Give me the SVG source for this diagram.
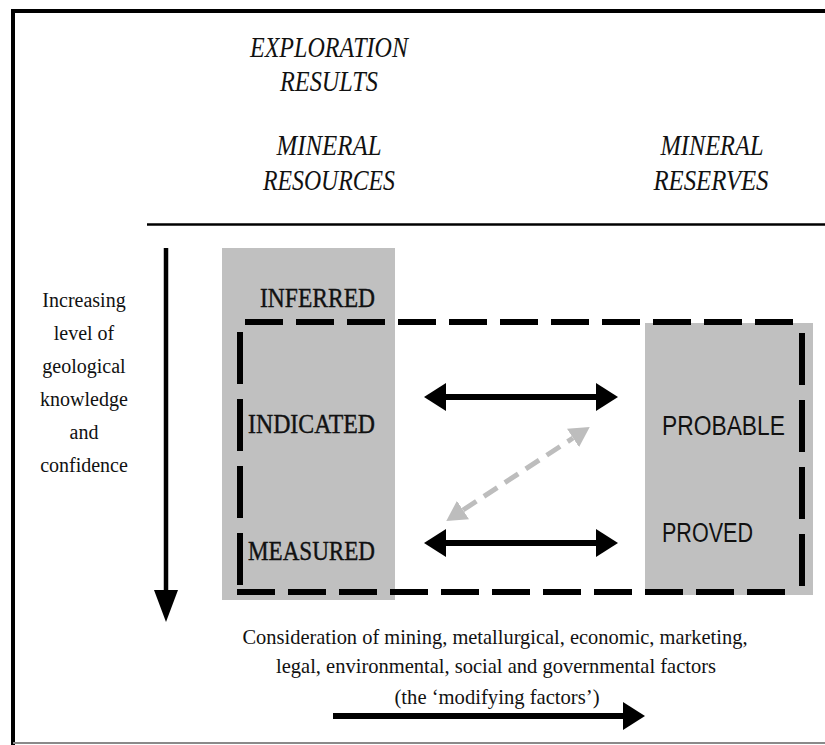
<svg xmlns="http://www.w3.org/2000/svg" width="825" height="745" viewBox="0 0 825 745">
<style>
.hdr{font-family:"Liberation Serif","Times New Roman",serif;font-style:italic;font-size:30px;fill:#111;text-anchor:middle}
.cat{font-family:"Liberation Serif","Times New Roman",serif;font-size:27px;fill:#111;stroke:#111;stroke-width:0.4}
.res{font-family:"Liberation Sans",Arial,sans-serif;font-size:27px;fill:#111}
.side{font-family:"Liberation Serif","Times New Roman",serif;font-size:20px;fill:#111;text-anchor:middle}
.foot{font-family:"Liberation Serif","Times New Roman",serif;font-size:21px;fill:#111;text-anchor:middle}
.box{fill:#c0c0c0}
.dash{stroke:#000;stroke-width:6;fill:none}
.blk{stroke:#000;stroke-width:6;fill:none}
</style>
<defs>
<marker id="ah" viewBox="0 0 22 28" refX="0" refY="14" markerWidth="22" markerHeight="28" markerUnits="userSpaceOnUse" orient="auto-start-reverse">
<path d="M0,0 L22,14 L0,28 Z" fill="#000"/>
</marker>
<marker id="ahg" viewBox="0 0 20 22" refX="0" refY="11" markerWidth="20" markerHeight="22" markerUnits="userSpaceOnUse" orient="auto-start-reverse">
<path d="M0,0 L20,11 L0,22 Z" fill="#bdbdbd"/>
</marker>
</defs>
<rect width="825" height="745" fill="#fff"/>
<g id="frame">
<line x1="11" y1="11" x2="825" y2="11" stroke="#000" stroke-width="4"/>
<line x1="13" y1="9" x2="13" y2="745" stroke="#000" stroke-width="4"/>
<line x1="13" y1="743" x2="825" y2="743" stroke="#8a8a8a" stroke-width="2"/>
<line x1="147" y1="224.5" x2="825" y2="224.5" stroke="#000" stroke-width="2.5"/>
</g>
<g id="headers">
<text class="hdr" x="329" y="57" textLength="158" lengthAdjust="spacingAndGlyphs">EXPLORATION</text>
<text class="hdr" x="329" y="91" textLength="98" lengthAdjust="spacingAndGlyphs">RESULTS</text>
<text class="hdr" x="329" y="155" textLength="105" lengthAdjust="spacingAndGlyphs">MINERAL</text>
<text class="hdr" x="329" y="190" textLength="132" lengthAdjust="spacingAndGlyphs">RESOURCES</text>
<text class="hdr" x="712" y="155" textLength="103" lengthAdjust="spacingAndGlyphs">MINERAL</text>
<text class="hdr" x="711" y="190" textLength="115" lengthAdjust="spacingAndGlyphs">RESERVES</text>
</g>
<g id="resources-box">
<rect class="box" x="222" y="248" width="173" height="352"/>
</g>
<g id="reserves-box">
<rect class="box" x="645" y="323" width="168" height="272"/>
</g>
<g id="modifying-boundary">
<line class="dash" x1="245" y1="322" x2="798" y2="322" stroke-dasharray="38 13"/>
<line class="dash" x1="240" y1="332" x2="240" y2="595" stroke-dasharray="52 15"/>
<line class="dash" x1="237" y1="592" x2="790" y2="592" stroke-dasharray="38 13"/>
<line class="dash" x1="802" y1="333" x2="802" y2="588" stroke-dasharray="52 15"/>
</g>
<g id="inferred"><text class="cat" x="260" y="307" textLength="115" lengthAdjust="spacingAndGlyphs">INFERRED</text></g>
<g id="indicated"><text class="cat" x="248" y="433" textLength="127" lengthAdjust="spacingAndGlyphs">INDICATED</text></g>
<g id="measured"><text class="cat" x="248" y="560" textLength="127" lengthAdjust="spacingAndGlyphs">MEASURED</text></g>
<g id="probable"><text class="res" x="662" y="435" textLength="123" lengthAdjust="spacingAndGlyphs">PROBABLE</text></g>
<g id="proved"><text class="res" x="662" y="542" textLength="91" lengthAdjust="spacingAndGlyphs">PROVED</text></g>
<g id="confidence-label">
<text class="side" x="84" y="307">Increasing</text>
<text class="side" x="84" y="340">level of</text>
<text class="side" x="84" y="373">geological</text>
<text class="side" x="84" y="406">knowledge</text>
<text class="side" x="84" y="439">and</text>
<text class="side" x="84" y="472">confidence</text>
</g>
<g id="modifying-label">
<text class="foot" x="495" y="644" textLength="505" lengthAdjust="spacingAndGlyphs">Consideration of mining, metallurgical, economic, marketing,</text>
<text class="foot" x="496" y="673" textLength="440" lengthAdjust="spacingAndGlyphs">legal, environmental, social and governmental factors</text>
<text class="foot" x="497" y="704" textLength="205" lengthAdjust="spacingAndGlyphs">(the ‘modifying factors’)</text>
</g>
<g id="connectors">
<line x1="166" y1="248" x2="166" y2="592" stroke="#000" stroke-width="4.5"/>
<polygon points="154,590 178,590 166,622" fill="#000"/>
<line class="blk" x1="446" y1="397" x2="596" y2="397" marker-start="url(#ah)" marker-end="url(#ah)"/>
<line class="blk" x1="446" y1="543" x2="596" y2="543" marker-start="url(#ah)" marker-end="url(#ah)"/>
<line x1="463" y1="510" x2="573" y2="438" stroke="#bdbdbd" stroke-width="5" stroke-dasharray="16 9" marker-start="url(#ahg)" marker-end="url(#ahg)"/>
<line class="blk" x1="333" y1="716" x2="623" y2="716" marker-end="url(#ah)"/>
</g>
</svg>
